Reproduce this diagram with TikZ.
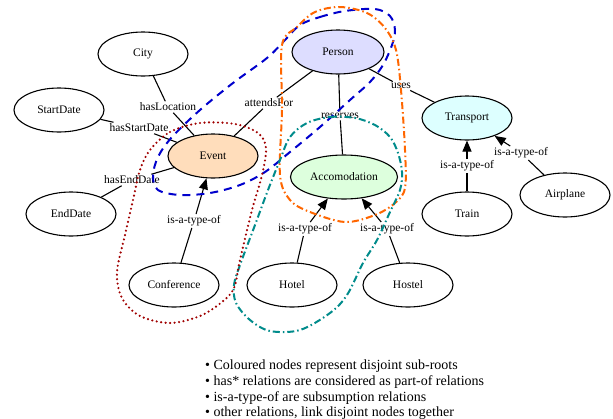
\documentclass[tikz,border=0pt]{standalone}
\usepackage{fontspec}
\setmainfont{Liberation Serif}
\usetikzlibrary{arrows.meta,shapes.geometric}
\definecolor{eventc}{HTML}{FFDDBB}
\definecolor{personc}{HTML}{DDDDFF}
\definecolor{accc}{HTML}{DDFFDD}
\definecolor{transc}{HTML}{DDFFFF}
\definecolor{hblue}{HTML}{0000CC}
\definecolor{horange}{HTML}{FF6600}
\definecolor{hteal}{HTML}{008B8B}
\definecolor{hred}{HTML}{A00000}
\begin{document}
\begin{tikzpicture}[x=1pt,y=-1pt,
  ent/.style={ellipse,draw,line width=1.1pt,minimum width=90pt,minimum height=44pt,inner sep=0pt,font=\fontsize{11.5}{13}\selectfont},
  lab/.style={inner sep=1.5pt,font=\fontsize{11.5}{13}\selectfont},
  edge/.style={line width=1.1pt},
  isa/.style={line width=1.1pt,-{Triangle[length=11pt,width=9pt]}},
  hull/.style={line width=2pt},
  legend/.style={anchor=base west,inner sep=0pt,font=\fontsize{14}{16}\selectfont},
]
\useasboundingbox (0,0) rectangle (613,418);
% nodes
\node[ent] (city) at (143,54) {City};
\node[ent] (start) at (59,110) {StartDate};
\node[ent] (end) at (71,214) {EndDate};
\node[ent,fill=eventc] (event) at (213,156) {Event};
\node[ent,fill=personc,minimum width=92pt] (person) at (338,52) {Person};
\node[ent,fill=transc] (transport) at (467,118) {Transport};
\node[ent,fill=accc,minimum width=107pt] (acc) at (344,177) {Accomodation};
\node[ent] (train) at (467,214) {Train};
\node[ent] (airplane) at (565,195) {Airplane};
\node[ent] (conf) at (174,285) {Conference};
\node[ent] (hotel) at (292,285) {Hotel};
\node[ent] (hostel) at (408,285) {Hostel};
% labels
\node[lab] (lLoc) at (168,107) {hasLocation};
\node[lab] (lStart) at (139,128) {hasStartDate};
\node[lab] (lEnd) at (132,180) {hasEndDate};
\node[lab] (lAtt) at (269,103) {attendsFor};
\node[lab] (lRes) at (340,116) {reserves};
\node[lab] (lUses) at (401,86) {uses};
\node[lab] (lConf) at (194,221) {is-a-type-of};
\node[lab] (lHotel) at (305,229) {is-a-type-of};
\node[lab] (lHostel) at (387,229) {is-a-type-of};
\node[lab] (lTrain) at (467,166) {is-a-type-of};
\node[lab] (lAir) at (521,153) {is-a-type-of};
% edges
\draw[edge] (city) -- (lLoc) -- (event);
\draw[edge] (start) -- (lStart) -- (event);
\draw[edge] (end) -- (lEnd) -- (event);
\draw[edge] (person) -- (lAtt) -- (event);
\draw[edge] (person) -- (lRes) -- (acc);
\draw[edge] (person) -- (lUses) -- (transport);
\draw[edge] (conf) -- (lConf); \draw[isa] (lConf) -- (event);
\draw[edge] (hotel) -- (lHotel); \draw[isa] (lHotel) -- (acc);
\draw[edge] (hostel) -- (lHostel); \draw[isa] (lHostel) -- (acc);
\draw[edge] (train) -- (lTrain); \draw[isa] (lTrain) -- (transport);
\draw[edge] (airplane) -- (lAir); \draw[isa] (lAir) -- (transport);
% hulls
\draw[hull,hblue,dash pattern=on 8pt off 6pt] plot[smooth cycle,tension=0.55] coordinates {
 (300,25) (320,17) (345,11) (375,9) (390,16) (395,30) (392,45) (383,65) (370,82) (350,100)
 (320,127) (290,152) (265,172) (240,185) (210,193) (180,195) (158,190) (153,176) (158,157)
 (172,137) (200,110) (233,83) (267,58) (285,40)};
\draw[hull,horange,dash pattern=on 7pt off 3pt on 1.5pt off 3pt] plot[smooth cycle,tension=0.55] coordinates {
 (282,45) (282,110) (280,175) (290,200) (310,212) (345,222) (375,215) (395,203) (405,188)
 (405,150) (401,90) (396,50) (385,28) (367,13) (340,7) (315,12) (297,27)};
\draw[hull,hteal,dash pattern=on 7pt off 3pt on 1.5pt off 3pt] plot[smooth cycle,tension=0.55] coordinates {
 (307,123) (330,117) (355,118) (375,125) (390,137) (398,153) (402,172) (400,190) (390,212)
 (377,240) (363,263) (347,295) (330,313) (300,330) (270,331) (250,320) (236,303) (234,285)
 (240,265) (255,225) (268,190) (280,160) (290,137)};
\draw[hred,line width=2.4pt,line cap=round,dash pattern=on 0pt off 4.5pt] plot[smooth cycle,tension=0.55] coordinates {
 (150,150) (170,132) (200,123) (235,124) (258,133) (266,148) (262,175) (252,210) (240,260)
 (234,288) (222,302) (200,316) (170,323) (140,316) (122,298) (117,272) (125,235) (133,200) (140,170)};
% legend
\node[legend] (leg1) at (205,369) {• Coloured nodes represent disjoint sub-roots};
\node[legend] (leg2) at (205,385) {• has* relations are considered as part-of relations};
\node[legend] (leg3) at (205,401) {• is-a-type-of are subsumption relations};
\node[legend] (leg4) at (205,416) {• other relations, link disjoint nodes together};
\end{tikzpicture}
\end{document}
